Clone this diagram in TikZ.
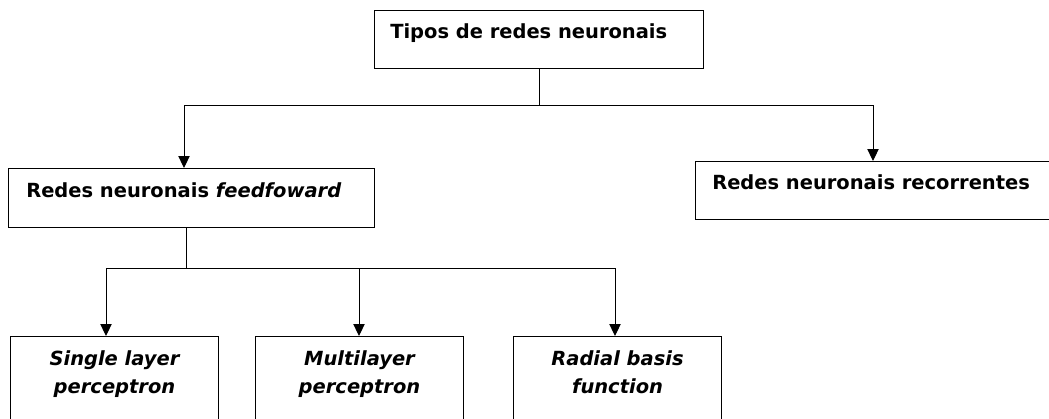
\documentclass[tikz,border=0pt]{standalone}
\usepackage{fontspec}
\setmainfont{DejaVu Sans}
\usetikzlibrary{arrows.meta,calc}
\begin{document}
\begin{tikzpicture}[x=0.75pt,y=-0.75pt,
  box/.style={draw,line width=0.75pt,inner sep=0,anchor=north west,rectangle},
  lbl/.style={inner sep=0,font=\fontsize{14.6}{21}\selectfont\bfseries},
  ilbl/.style={inner sep=0,align=center,anchor=north,font=\fontsize{14.6}{21}\selectfont\bfseries\itshape},
  conn/.style={line width=0.75pt},
  arr/.style={conn,-{Triangle[length=9pt,width=8.5pt]}}]
\useasboundingbox (0,0) rectangle (1049,418);
\fill[white] (0,0) rectangle (1049,418);
% boxes
\node[box,minimum width=246.75pt,minimum height=43.5pt] (top) at (374,10) {};
\node[box,minimum width=274.5pt,minimum height=44.25pt] (ff) at (8,168) {};
\node[box,minimum width=277.5pt,minimum height=43.5pt] (rec) at (695,161) {};
\node[box,minimum width=156pt,minimum height=75pt] (b1) at (10,336) {};
\node[box,minimum width=156pt,minimum height=75pt] (b2) at (255,336) {};
\node[box,minimum width=156pt,minimum height=75pt] (b3) at (513,336) {};
% texts
\node[lbl,anchor=base west] (t0) at (390,38) {Tipos de redes neuronais};
\node[lbl,anchor=base west] (t1) at (26,197) {Redes neuronais \textit{feedfoward}};
\node[lbl,anchor=base west] (t2) at (712,189) {Redes neuronais recorrentes};
\node[ilbl] (t3) at (b1.north) [yshift=-14*0.75pt] {Single layer\\perceptron};
\node[ilbl] (t4) at (b2.north) [yshift=-14*0.75pt] {Multilayer\\perceptron};
\node[ilbl] (t5) at (b3.north) [yshift=-14*0.75pt] {Radial basis\\function};
% junctions
\coordinate (jL) at (184,105);
\coordinate (jR) at (873,105);
\coordinate (k1) at (106,268);
\coordinate (k2) at (359,268);
\coordinate (k3) at (615,268);
% connectors
\draw[conn] (top.south) -- (top.south |- jL);
\draw[conn] (jL) -- (jR);
\draw[arr] (jL) -- (jL |- ff.north);
\draw[arr] (jR) -- (jR |- rec.north);
\draw[conn] ($(ff.south)+(-5,0)$) -- ($(ff.south |- k1)+(-5,0)$);
\draw[conn] (k1) -- (k3);
\draw[arr] (k1) -- (k1 |- b1.north);
\draw[arr] (k2) -- (k2 |- b2.north);
\draw[arr] (k3) -- (k3 |- b3.north);
\end{tikzpicture}
\end{document}
